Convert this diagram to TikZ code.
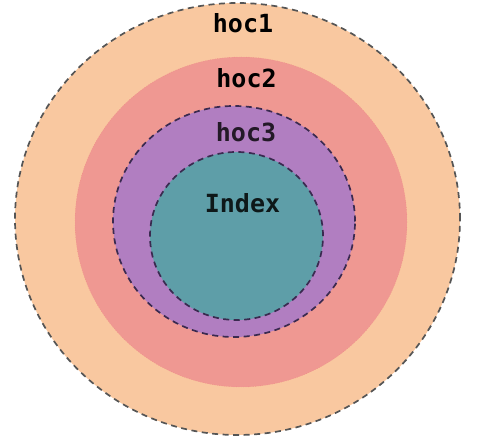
\documentclass[tikz,border=0pt]{standalone}
\usepackage{fontspec}
\setmonofont{DejaVu Sans Mono}
\usepackage{tikz}
\usetikzlibrary{positioning,shapes.geometric}
\usepackage{xcolor}
\definecolor{peach}{HTML}{F9C8A0}
\definecolor{salmon}{HTML}{EF9892}
\definecolor{lilac}{HTML}{B17EC1}
\definecolor{teal}{HTML}{5E9EA8}
\definecolor{rimgrey}{HTML}{555555}
\definecolor{rimdark}{HTML}{3A2A50}

\begin{document}
\begin{tikzpicture}[x=1pt,y=1pt,
  ring/.style={ellipse,inner sep=0pt,line width=1.7pt,
    dash pattern=on 6pt off 4.5pt},
  label/.style={anchor=base,font=\ttfamily\bfseries\fontsize{25}{28}\selectfont}]
\useasboundingbox (0,0) rectangle (495,447);
\path
  (237.5,228) node [ring,draw=rimgrey,fill=peach,
    minimum width=445pt,minimum height=432pt] (hocone) {}
  (241,225) node [ellipse,inner sep=0pt,fill=salmon,
    draw=salmon!85!red,dotted,
    minimum width=332pt,minimum height=330pt] (hoctwo) {}
  (234,225.5) node [ring,draw=rimdark,fill=lilac,
    minimum width=242pt,minimum height=231pt] (hocthree) {}
  (236.5,211) node [ring,draw=rimdark,fill=teal,
    minimum width=173pt,minimum height=168pt] (index) {};
\node [label] (hoconelabel) at (243,414) {hoc1};
\node [label] (hoctwolabel) at (246.5,359) {hoc2};
\node [label,text=black!80!lilac] (hocthreelabel) at (246,305) {hoc3};
\node [label,text=black!85!teal] (indexlabel) at (242.5,234) {Index};
\end{tikzpicture}
\end{document}
